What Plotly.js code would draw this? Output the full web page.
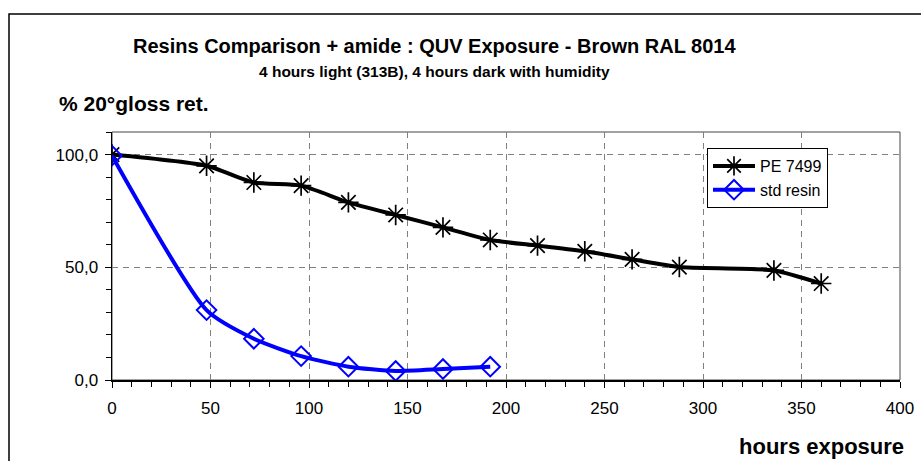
<!DOCTYPE html>
<html>
<head>
<meta charset="utf-8">
<script src="https://cdn.plot.ly/plotly-3.0.1.min.js"></script>
<style>
  html, body { margin: 0; padding: 0; background: #ffffff; }
  #chart { width: 921px; height: 461px; }
</style>
</head>
<body>
<div id="chart"></div>
<script>
// Data
const peHours  = [0, 48, 72, 96, 120, 144, 168, 192, 216, 240, 264, 288, 336, 360];
const peGloss  = [100, 95, 87.6, 86.2, 78.8, 73.2, 67.7, 62.1, 59.6, 57.1, 53.5, 50.1, 48.6, 42.8];
const stdHours = [0, 48, 72, 96, 120, 144, 168, 192];
const stdGloss = [99.5, 31, 18.3, 10.6, 5.9, 4.0, 4.9, 5.9];

const seriesNames = ['PE 7499', 'std resin'];
const titleText = 'Resins Comparison + amide : QUV Exposure - Brown RAL 8014';
const subtitleText = '4 hours light (313B), 4 hours dark with humidity';
const yTitleText = '% 20°gloss ret.';
const xTitleText = 'hours exposure';
const yTickVals = [0, 50, 100];
const yTickText = ['0,0', '50,0', '100,0'];
const xTickVals = [0, 50, 100, 150, 200, 250, 300, 350, 400];

const FONT = 'Arial, "Liberation Sans", sans-serif';

const traces = [
  {
    x: peHours, y: peGloss, name: seriesNames[0],
    type: 'scatter', mode: 'lines+markers',
    line: { color: '#000000', width: 4, shape: 'spline', smoothing: 0.6 },
    marker: { symbol: 'asterisk-open', size: 17, color: '#000000', line: { color: '#000000', width: 1.7 } }
  },
  {
    x: stdHours, y: stdGloss, name: seriesNames[1],
    type: 'scatter', mode: 'lines+markers',
    line: { color: '#0000ff', width: 4, shape: 'spline', smoothing: 0.6 },
    marker: { symbol: 'diamond-open', size: 15, color: '#0000ff', line: { color: '#0000ff', width: 2 } }
  }
];

const layout = {
  width: 921, height: 461,
  margin: { l: 112, r: 21, t: 132, b: 81 },
  paper_bgcolor: '#ffffff', plot_bgcolor: '#ffffff',
  font: { family: FONT, color: '#000000', size: 17 },
  showlegend: true,
  legend: {
    x: (707 - 112) / 788, y: (380 - 148) / 248, xanchor: 'left', yanchor: 'top',
    bgcolor: '#ffffff', bordercolor: '#000000', borderwidth: 1,
    font: { family: FONT, size: 16, color: '#000000' },
    tracegroupgap: 0, itemwidth: 42
  },
  xaxis: {
    range: [0, 400], tickmode: 'array', tickvals: xTickVals,
    ticks: 'outside', ticklen: 6, tickwidth: 1, tickcolor: '#000000',
    ticklabelstandoff: 6,
    showline: true, linecolor: '#000000', linewidth: 1.5,
    showgrid: true, gridcolor: '#808080', gridwidth: 1, griddash: '6px,5px',
    zeroline: false,
    tickfont: { family: FONT, size: 17 },
    minor: { dtick: 10, ticks: 'outside', ticklen: 5, tickcolor: '#000000', showgrid: false },
    fixedrange: true
  },
  yaxis: {
    range: [0, 110], tickmode: 'array', tickvals: yTickVals, ticktext: yTickText,
    ticks: 'outside', ticklen: 6, tickwidth: 1, tickcolor: '#000000',
    ticklabelstandoff: 3,
    showline: true, linecolor: '#000000', linewidth: 1.5,
    showgrid: true, gridcolor: '#808080', gridwidth: 1, griddash: '6px,5px',
    zeroline: false,
    tickfont: { family: FONT, size: 17 },
    minor: { dtick: 10, ticks: 'outside', ticklen: 5, tickcolor: '#000000', showgrid: false },
    fixedrange: true
  },
  shapes: [
    // plot area border
    { type: 'rect', xref: 'paper', yref: 'paper', x0: 0, x1: 1, y0: 0, y1: 1,
      line: { color: '#444444', width: 1 }, fillcolor: 'rgba(0,0,0,0)', layer: 'below' },
    // chart area border (top/left visible)
    { type: 'rect', xref: 'paper', yref: 'paper',
      x0: (9 - 112) / 788, x1: (935 - 112) / 788,
      y0: (380 - 470) / 248, y1: (380 - 14) / 248,
      line: { color: '#000000', width: 1.5 }, fillcolor: 'rgba(0,0,0,0)' }
  ],
  annotations: [
    { text: '<b>' + titleText + '</b>', xref: 'paper', yref: 'paper',
      x: (434 - 112) / 788, y: (380 - 46) / 248, xanchor: 'center', yanchor: 'middle',
      showarrow: false, font: { family: FONT, size: 20, color: '#000000' } },
    { text: '<b>' + subtitleText + '</b>', xref: 'paper', yref: 'paper',
      x: (434 - 112) / 788, y: (380 - 71) / 248, xanchor: 'center', yanchor: 'middle',
      showarrow: false, font: { family: FONT, size: 15.5, color: '#000000' } },
    { text: '<b>' + yTitleText + '</b>', xref: 'paper', yref: 'paper',
      x: (57 - 112) / 788, y: (380 - 103) / 248, xanchor: 'left', yanchor: 'middle',
      showarrow: false, font: { family: FONT, size: 21, color: '#000000' } },
    { text: '<b>' + xTitleText + '</b>', xref: 'paper', yref: 'paper',
      x: (906 - 112) / 788, y: (380 - 447) / 248, xanchor: 'right', yanchor: 'middle',
      showarrow: false, font: { family: FONT, size: 22, color: '#000000' } }
  ]
};

Plotly.newPlot('chart', traces, layout, { staticPlot: true, displayModeBar: false });
</script>
</body>
</html>
